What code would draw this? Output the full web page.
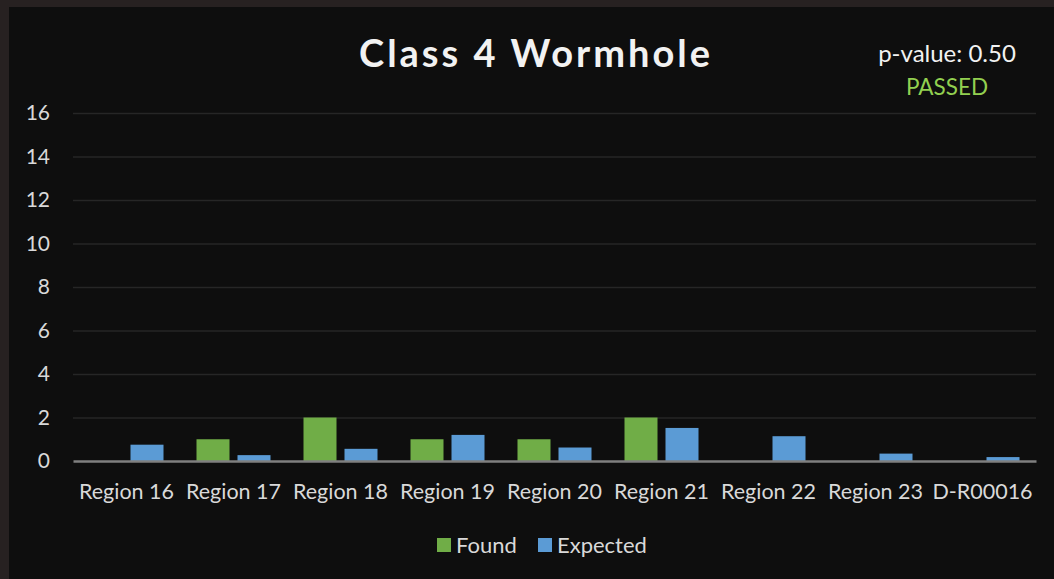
<!DOCTYPE html>
<html>
<head>
<meta charset="utf-8">
<script src="https://cdn.jsdelivr.net/npm/d3@7"></script>
<style>
  html, body { margin: 0; padding: 0; background: #272121; }
  svg { display: block; }
</style>
</head>
<body>
<svg width="1054" height="579"></svg>
<script>
const { select, scaleBand, scaleLinear, axisLeft, axisBottom } = d3;

// data
const regions = ['Region 16', 'Region 17', 'Region 18', 'Region 19', 'Region 20',
    'Region 21', 'Region 22', 'Region 23', 'D-R00016'];
const found = [0, 1, 2, 1, 1, 2, 0, 0, 0];
const expected = [0.75, 0.27, 0.56, 1.2, 0.62, 1.52, 1.14, 0.34, 0.18];
const seriesNames = ['Found', 'Expected'];
const seriesColors = ['#70ad47', '#5b9bd5'];
const yTicks = [0, 2, 4, 6, 8, 10, 12, 14, 16];

const svg = select('svg');
const font = 'Lato, "Open Sans", sans-serif';
const textColor = '#d9d9d9';

// frame + panel
svg.append('rect').attr('width', 1054).attr('height', 579).attr('fill', '#272121');
svg.append('rect')
    .attr('x', 9).attr('y', 7)
    .attr('width', 1054 - 9).attr('height', 579 - 7)
    .attr('fill', '#0e0e0e');

const plot = { left: 73, right: 1036, top: 113, bottom: 461 };

const x = scaleBand()
    .domain(regions)
    .range([plot.left, plot.right]);

const y = scaleLinear()
    .domain([0, 16])
    .range([plot.bottom, plot.top]);

const barW = 33;
const gap = 8;

// gridlines + y labels
const yAxisG = svg.append('g')
    .attr('transform', `translate(${plot.left},0)`)
    .call(axisLeft(y).tickValues(yTicks).tickSize(-(plot.right - plot.left)).tickPadding(23));
yAxisG.select('.domain').remove();
yAxisG.selectAll('.tick line')
    .attr('stroke', (d) => d === 0 ? 'none' : '#262626')
    .attr('stroke-width', 1.3);
yAxisG.selectAll('.tick text')
    .attr('fill', textColor)
    .attr('font-family', font)
    .attr('font-size', 21);

// bars
const rows = regions.map((r, i) => ({ region: r, values: [found[i], expected[i]] }));
const groups = svg.append('g')
    .selectAll('g')
    .data(rows)
    .join('g')
    .attr('transform', (d) => `translate(${x(d.region) + x.bandwidth() / 2},0)`);

groups.selectAll('rect')
    .data((d) => d.values.map((v, k) => ({ v, k })))
    .join('rect')
    .attr('x', (d) => d.k === 0 ? -gap / 2 - barW : gap / 2)
    .attr('y', (d) => y(d.v))
    .attr('width', barW)
    .attr('height', (d) => y(0) - y(d.v))
    .attr('fill', (d) => seriesColors[d.k]);

// x axis
const xAxisG = svg.append('g')
    .attr('transform', `translate(0,${plot.bottom})`)
    .call(axisBottom(x).tickSize(0).tickPadding(23));
xAxisG.select('.domain')
    .attr('stroke', '#7f7f7f')
    .attr('stroke-width', 2.5);
xAxisG.selectAll('.tick text')
    .attr('fill', textColor)
    .attr('font-family', font)
    .attr('font-size', 21.5);

// title
svg.append('text')
    .attr('x', 536)
    .attr('y', 67)
    .attr('text-anchor', 'middle')
    .attr('fill', '#f2f2f2')
    .attr('font-family', font)
    .attr('font-weight', 'bold')
    .attr('font-size', 38)
    .attr('letter-spacing', 3)
    .text('Class 4 Wormhole');

svg.append('text')
    .attr('x', 947)
    .attr('y', 62)
    .attr('text-anchor', 'middle')
    .attr('fill', '#f2f2f2')
    .attr('font-family', font)
    .attr('font-size', 24)
    .text('p-value: 0.50');

svg.append('text')
    .attr('x', 947)
    .attr('y', 95)
    .attr('text-anchor', 'middle')
    .attr('fill', '#92d050')
    .attr('font-family', font)
    .attr('font-size', 22.5)
    .text('PASSED');

// legend
const legendX = [437, 538];
const legend = svg.append('g')
    .selectAll('g')
    .data(seriesNames)
    .join('g')
    .attr('transform', (d, i) => `translate(${legendX[i]},538)`);
legend.append('rect')
    .attr('width', 14).attr('height', 14)
    .attr('fill', (d, i) => seriesColors[i]);
legend.append('text')
    .attr('x', 19)
    .attr('y', 7)
    .attr('dy', '0.35em')
    .attr('fill', textColor)
    .attr('font-family', font)
    .attr('font-size', 22)
    .text((d) => d);
</script>
</body>
</html>
